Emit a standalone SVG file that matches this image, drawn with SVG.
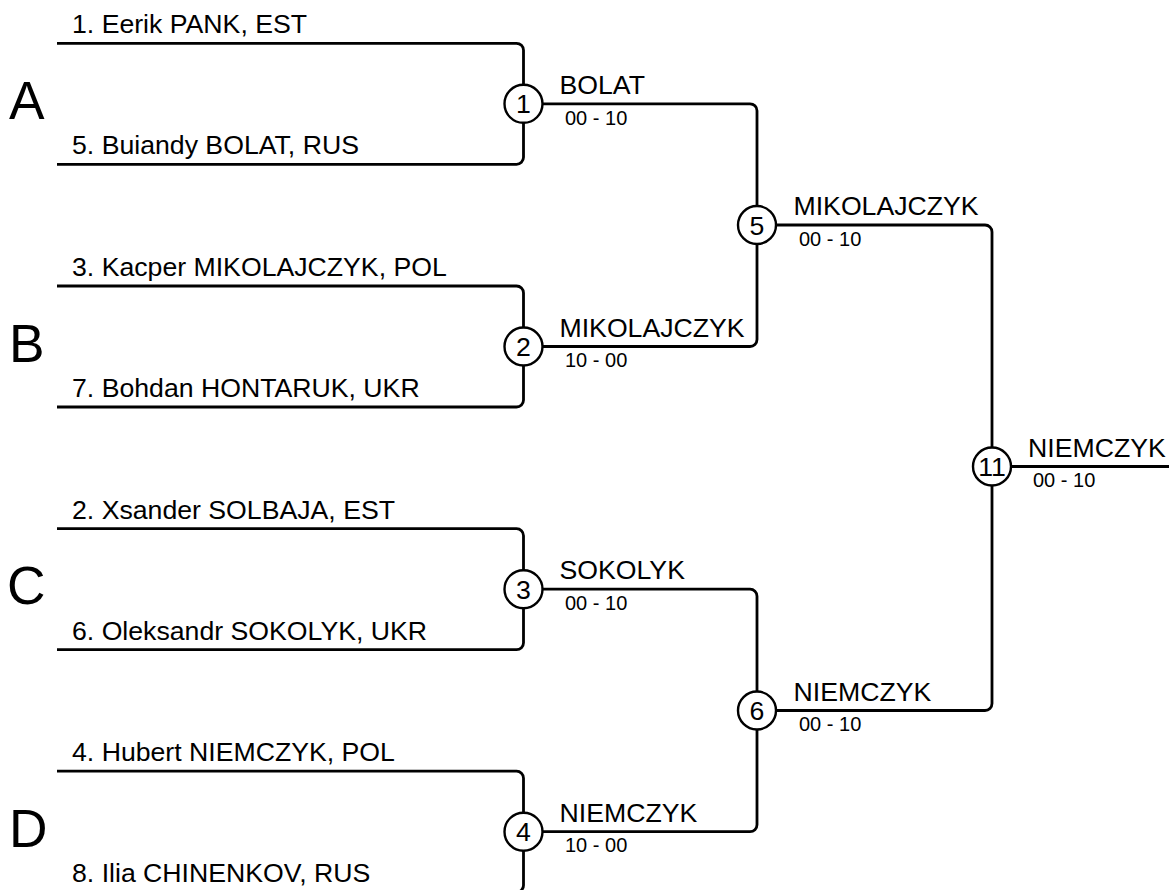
<svg xmlns="http://www.w3.org/2000/svg" width="1169" height="890" viewBox="0 0 1169 890">
<style>
  .ln{fill:none;stroke:#000;stroke-width:2.8;stroke-linejoin:round}
  .c{fill:#fff;stroke:#000;stroke-width:2.4}
  text{font-family:"Liberation Sans",Arial,sans-serif;fill:#000}
  .nm{font-size:26.67px}
  .lb{font-size:26.67px}
  .sc{font-size:20px}
  .num{font-size:26.67px;text-anchor:middle}
  .grp{font-size:53.3px}
</style>
<rect width="1169" height="890" fill="#fff"/>
<g id="connectors">
  <path class="ln" d="M57 43.3 H516.5 A7 7 0 0 1 523.5 50.3 V157.3 A7 7 0 0 1 516.5 164.3 H57"/>
  <path class="ln" d="M57 286 H516.5 A7 7 0 0 1 523.5 293 V400 A7 7 0 0 1 516.5 407 H57"/>
  <path class="ln" d="M57 528.7 H516.5 A7 7 0 0 1 523.5 535.7 V642.7 A7 7 0 0 1 516.5 649.7 H57"/>
  <path class="ln" d="M57 771.2 H516.5 A7 7 0 0 1 523.5 778.2 V885.2 A7 7 0 0 1 516.5 892.2 H57"/>
  <path class="ln" d="M523.5 103.8 H750 A7 7 0 0 1 757 110.8 V339.5 A7 7 0 0 1 750 346.5 H523.5"/>
  <path class="ln" d="M523.5 589.2 H750 A7 7 0 0 1 757 596.2 V824.7 A7 7 0 0 1 750 831.7 H523.5"/>
  <path class="ln" d="M757 225 H985 A7 7 0 0 1 992 232 V703.5 A7 7 0 0 1 985 710.5 H757"/>
  <path class="ln" d="M992 466.5 H1169"/>
</g>
<g id="groups">
  <text class="grp" x="9" y="118.5">A</text>
  <text class="grp" x="9" y="361.5">B</text>
  <text class="grp" x="7" y="604">C</text>
  <text class="grp" x="9" y="846.5">D</text>
</g>
<g id="players">
  <text class="nm" x="72" y="33.3">1. Eerik PANK, EST</text>
  <text class="nm" x="72" y="154.3">5. Buiandy BOLAT, RUS</text>
  <text class="nm" x="72" y="276">3. Kacper MIKOLAJCZYK, POL</text>
  <text class="nm" x="72" y="397">7. Bohdan HONTARUK, UKR</text>
  <text class="nm" x="72" y="518.7">2. Xsander SOLBAJA, EST</text>
  <text class="nm" x="72" y="639.7">6. Oleksandr SOKOLYK, UKR</text>
  <text class="nm" x="72" y="761.2">4. Hubert NIEMCZYK, POL</text>
  <text class="nm" x="72" y="882.2">8. Ilia CHINENKOV, RUS</text>
</g>
<g id="match1">
  <circle class="c" cx="523.5" cy="103.8" r="19"/>
  <text class="num" x="523.5" y="113.3">1</text>
  <text class="lb" x="559.5" y="93.8">BOLAT</text>
  <text class="sc" x="565" y="124.5">00 - 10</text>
</g>
<g id="match2">
  <circle class="c" cx="523.5" cy="346.5" r="19"/>
  <text class="num" x="523.5" y="356">2</text>
  <text class="lb" x="559.5" y="336.5">MIKOLAJCZYK</text>
  <text class="sc" x="565" y="367.2">10 - 00</text>
</g>
<g id="match3">
  <circle class="c" cx="523.5" cy="589.2" r="19"/>
  <text class="num" x="523.5" y="598.7">3</text>
  <text class="lb" x="559.5" y="579.2">SOKOLYK</text>
  <text class="sc" x="565" y="609.9">00 - 10</text>
</g>
<g id="match4">
  <circle class="c" cx="523.5" cy="831.7" r="19"/>
  <text class="num" x="523.5" y="841.2">4</text>
  <text class="lb" x="559.5" y="821.7">NIEMCZYK</text>
  <text class="sc" x="565" y="852.4">10 - 00</text>
</g>
<g id="match5">
  <circle class="c" cx="757" cy="225" r="19"/>
  <text class="num" x="757" y="234.5">5</text>
  <text class="lb" x="793.5" y="215">MIKOLAJCZYK</text>
  <text class="sc" x="799" y="245.7">00 - 10</text>
</g>
<g id="match6">
  <circle class="c" cx="757" cy="710.5" r="19"/>
  <text class="num" x="757" y="720">6</text>
  <text class="lb" x="793.5" y="700.5">NIEMCZYK</text>
  <text class="sc" x="799" y="731.2">00 - 10</text>
</g>
<g id="match11">
  <circle class="c" cx="992" cy="466.5" r="19"/>
  <text class="num" x="992" y="476">11</text>
  <text class="lb" x="1028" y="456.5">NIEMCZYK</text>
  <text class="sc" x="1033" y="487.2">00 - 10</text>
</g>
</svg>
